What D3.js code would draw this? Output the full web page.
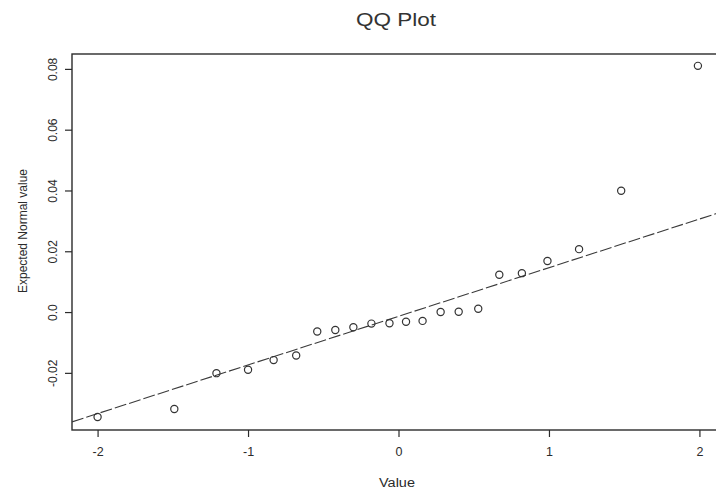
<!DOCTYPE html>
<html>
<head>
<meta charset="utf-8">
<script src="https://cdn.jsdelivr.net/npm/d3@7"></script>
<style>
  html, body { margin: 0; padding: 0; background: #fff; }
  svg { display: block; font-family: "Liberation Sans", Arial, sans-serif; }
</style>
</head>
<body>
<svg id="chart" width="716" height="491"></svg>
<script>
// Theoretical quantiles (x) and sample values (y)
const theoretical = [-2.00, -1.49, -1.21, -1.00, -0.83, -0.68, -0.54, -0.42, -0.30, -0.18, -0.06,
                     0.05, 0.16, 0.28, 0.40, 0.53, 0.67, 0.82, 0.99, 1.20, 1.48, 1.99];
const sample = [-0.0345, -0.0319, -0.0201, -0.0190, -0.0158, -0.0143, -0.0064, -0.0059, -0.0050, -0.0038, -0.0037,
                -0.0032, -0.0029, 0.0000, 0.0001, 0.0011, 0.0123, 0.0128, 0.0168, 0.0207, 0.0399, 0.0810];
// Reference line (qqline): intercept and slope
const lineIntercept = [-0.0014];
const lineSlope = [0.0160];
const xTicks = [-2, -1, 0, 1, 2];
const yTicks = [-0.02, 0.0, 0.02, 0.04, 0.06, 0.08];
const yTickLabels = ["-0.02", "0.0", "0.02", "0.04", "0.06", "0.08"];
const chartTitle = "QQ Plot";
const xLabel = "Value";
const yLabel = "Expected Normal value";

const svg = d3.select("#chart");
const ink = "#2b2b2b";
const pLeft = 72, pRight = 725, pTop = 54, pBottom = 430;

const x = d3.scaleLinear().domain([-2.17, 2.17]).range([pLeft, pRight]);
const y = d3.scaleLinear().domain([-0.0388, 0.0849]).range([pBottom, pTop]);

svg.append("defs").append("clipPath").attr("id", "clip")
  .append("rect").attr("x", pLeft).attr("y", pTop).attr("width", pRight - pLeft).attr("height", pBottom - pTop);

// Title
svg.append("text").attr("x", 396).attr("y", 26).attr("text-anchor", "middle")
  .attr("font-size", 19).attr("fill", "#333")
  .attr("textLength", 80).attr("lengthAdjust", "spacingAndGlyphs").text(chartTitle);

// Frame
svg.append("rect").attr("x", pLeft).attr("y", pTop).attr("width", pRight - pLeft).attr("height", pBottom - pTop)
  .attr("fill", "none").attr("stroke", ink).attr("stroke-width", 1.4);

// X axis
const xAxis = d3.axisBottom(x).tickValues(xTicks).tickFormat(d3.format("d")).tickSize(7).tickPadding(10);
const gx = svg.append("g").attr("transform", `translate(0,${pBottom})`).call(xAxis);
gx.select(".domain").remove();
gx.selectAll("line").attr("stroke", ink).attr("stroke-width", 1.2);
gx.selectAll("text").attr("font-size", 12.5).attr("fill", ink).attr("font-family", "Liberation Sans, Arial, sans-serif")
  .text(d => d < 0 ? "-" + Math.abs(d) : d);

// Y axis
const yAxis = d3.axisLeft(y).tickValues(yTicks).tickFormat((d, i) => yTickLabels[i]).tickSize(7).tickPadding(0);
const gy = svg.append("g").attr("transform", `translate(${pLeft},0)`).call(yAxis);
gy.select(".domain").remove();
gy.selectAll("line").attr("stroke", ink).attr("stroke-width", 1.2);
gy.selectAll("text")
  .attr("font-size", 12).attr("fill", ink).attr("font-family", "Liberation Sans, Arial, sans-serif")
  .attr("x", 0).attr("dy", null).attr("text-anchor", "middle")
  .attr("transform", "translate(-15,0) rotate(-90)");

// Axis labels
svg.append("text").attr("x", 397).attr("y", 487).attr("text-anchor", "middle")
  .attr("font-size", 12.5).attr("fill", ink)
  .attr("textLength", 36).attr("lengthAdjust", "spacingAndGlyphs").text(xLabel);
svg.append("text").attr("transform", "translate(27,231) rotate(-90)")
  .attr("text-anchor", "middle").attr("font-size", 12).attr("fill", ink).text(yLabel);

// Reference line
const plot = svg.append("g").attr("clip-path", "url(#clip)");
const xd = x.domain();
const linePts = xd.map(v => [v, lineIntercept[0] + lineSlope[0] * v]);
plot.append("path")
  .attr("d", d3.line().x(d => x(d[0])).y(d => y(d[1]))(linePts))
  .attr("fill", "none").attr("stroke", "#3a3a3a").attr("stroke-width", 1.1)
  .attr("stroke-dasharray", "12,3");

// Points
plot.selectAll("circle.pt").data(theoretical.map((t, i) => [t, sample[i]]))
  .enter().append("circle").attr("class", "pt")
  .attr("cx", d => x(d[0])).attr("cy", d => y(d[1])).attr("r", 3.6)
  .attr("fill", "none").attr("stroke", "#333").attr("stroke-width", 1.2);
</script>
</body>
</html>
